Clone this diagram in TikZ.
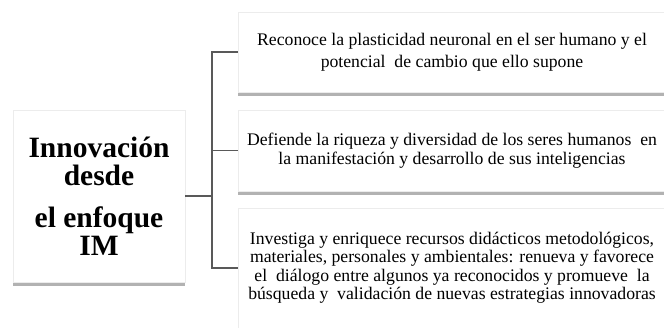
\documentclass[tikz,border=0pt]{standalone}
\usepackage{fontspec}
\setmainfont{Liberation Serif}
\usetikzlibrary{positioning,shadows}

\tikzset{
	caja/.style={draw=gray!15,fill=white,line width=0.8pt,align=center,inner sep=2pt,
		drop shadow={shadow xshift=0pt,shadow yshift=-3.5pt,fill=gray!60,opacity=1}},
	rama/.style={draw=black!65,line width=1.3pt}
}

\begin{document}
\begin{tikzpicture}[x=1pt,y=-1pt]
\clip (0,0) rectangle (664,327);

\node[caja,minimum width=172pt,minimum height=172pt,font=\fontsize{29.5}{28}\selectfont\bfseries](im) at (99,196)
	{Innovación\\desde\\[14pt]el enfoque\\IM};

\node[caja,minimum width=428pt,minimum height=80pt,font=\fontsize{17.7}{22.5}\selectfont](r1) at (452,52)
	{Reconoce la plasticidad neuronal en el ser humano y el\\potencial\ \ de cambio que ello supone};
\node[caja,minimum width=428pt,minimum height=81pt,font=\fontsize{17.7}{18.5}\selectfont](r2) at (452,150.5)
	{Defiende la riqueza y diversidad de los seres humanos\ \ en\\la manifestación y desarrollo de sus inteligencias};
\node[caja,minimum width=428pt,minimum height=120pt,font=\fontsize{17.7}{18.5}\selectfont](r3) at (452,268)
	{Investiga y enriquece recursos didácticos metodológicos,\\materiales, personales y ambientales: renueva y favorece\\el\ \ diálogo entre algunos ya reconocidos y promueve\ \ la\\búsqueda y\ \ validación de nuevas estrategias innovadoras};

% tronco y ramas
\coordinate (tr) at (212,196);
\draw[rama](im.east)--(tr);
\foreach \n in {r1,r2,r3}
	\draw[rama](tr)|-(\n.west);
\end{tikzpicture}
\end{document}
